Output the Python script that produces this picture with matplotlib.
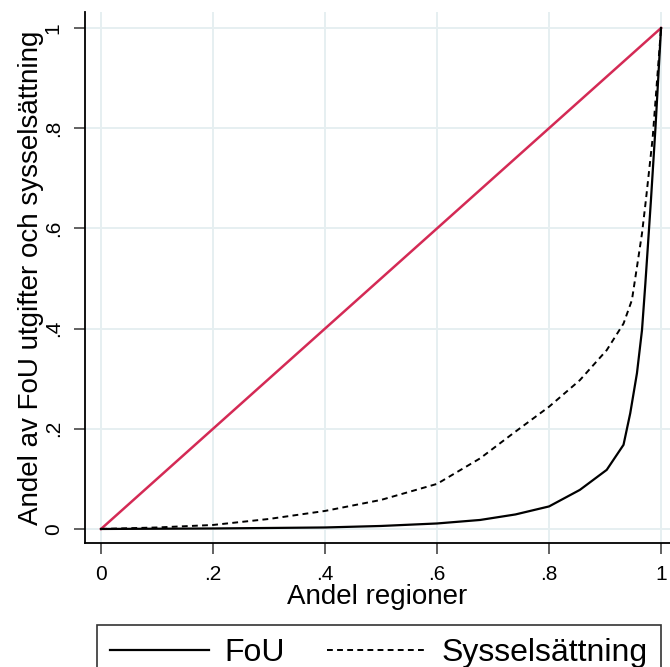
import matplotlib
matplotlib.use("Agg")
import matplotlib.pyplot as plt

# Lorenz-type curves
fou_x = [0.0, 0.1, 0.2, 0.3, 0.4, 0.5, 0.6, 0.677, 0.74, 0.8, 0.855, 0.903,
         0.933, 0.945, 0.957, 0.966, 0.972, 0.978, 0.982, 0.99, 1.0]
fou_y = [0.0, 0.0005, 0.001, 0.002, 0.003, 0.006, 0.011, 0.018, 0.029, 0.045,
         0.078, 0.118, 0.168, 0.231, 0.311, 0.397, 0.49, 0.59, 0.657, 0.8, 1.0]
syss_x = [0.0, 0.1, 0.2, 0.3, 0.4, 0.5, 0.6, 0.677, 0.736, 0.8, 0.855, 0.903,
          0.933, 0.948, 0.957, 0.966, 0.973, 0.985, 1.0]
syss_y = [0.0, 0.003, 0.008, 0.02, 0.036, 0.058, 0.09, 0.141, 0.191, 0.244,
          0.297, 0.357, 0.41, 0.457, 0.523, 0.59, 0.657, 0.78, 1.0]
equal_x = [0.0, 1.0]
equal_y = [0.0, 1.0]

ticks = [0, 0.2, 0.4, 0.6, 0.8, 1.0]
tick_labels = ["0", ".2", ".4", ".6", ".8", "1"]

plt.rcParams["font.family"] = ["Liberation Sans", "DejaVu Sans"]

fig = plt.figure(figsize=(6.7, 6.67), dpi=100)
ax = fig.add_axes([85 / 670, 1 - 543 / 667, 585 / 670, 531 / 667])

ax.plot(equal_x, equal_y, color="#d42a55", lw=1.8, zorder=3)
ax.plot(fou_x, fou_y, color="black", lw=1.6, label="FoU", zorder=4)
ax.plot(syss_x, syss_y, color="black", lw=1.4, ls=(0, (3, 2.2)),
        label="Sysselsättning", zorder=4)

ax.set_xlim(-0.0286, 1.016)
ax.set_ylim(-0.028, 1.032)
ax.set_xticks(ticks)
ax.set_xticklabels(tick_labels)
ax.set_yticks(ticks)
ax.set_yticklabels(tick_labels, rotation=90, va="center")
ax.grid(True, color="#e6eff1", lw=1.4)
ax.set_axisbelow(True)

for side in ["top", "right"]:
    ax.spines[side].set_visible(False)
for side in ["left", "bottom"]:
    ax.spines[side].set_linewidth(1.3)

ax.tick_params(direction="out", length=8, width=1.3, color="#555555",
               labelsize=15, pad=8)
ax.set_xlabel("Andel regioner", fontsize=20, labelpad=0)
ax.set_ylabel("Andel av FoU utgifter och sysselsättning", fontsize=20,
              labelpad=0)

fig.legend(loc="upper left", bbox_to_anchor=(97 / 670, 1 - 625 / 667),
           borderaxespad=0, ncol=2, fontsize=23, frameon=True, fancybox=False,
           edgecolor="black", handlelength=3.1, columnspacing=1.3,
           borderpad=0.4, handletextpad=0.5).get_frame().set_linewidth(1.2)

fig.savefig("out.png", dpi=100)
